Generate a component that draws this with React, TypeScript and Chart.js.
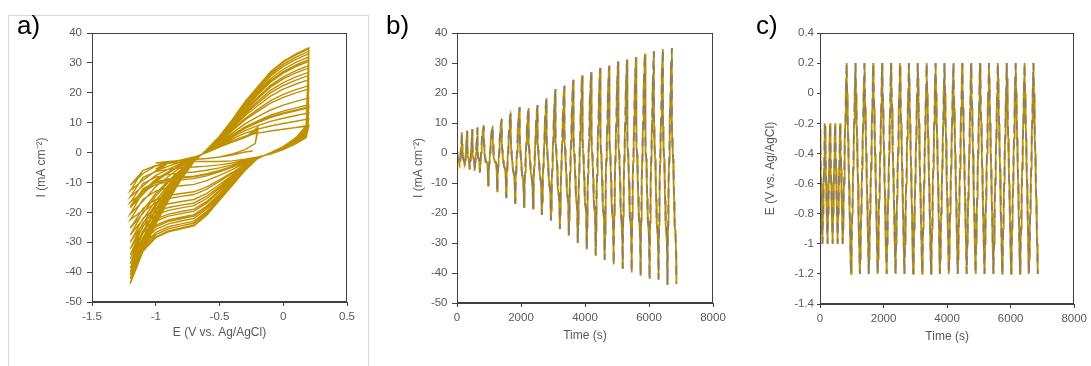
import React, { useEffect, useRef } from "react";
import { Chart, registerables } from "chart.js";

Chart.register(...registerables);

const FONT = "'Liberation Sans', Arial, sans-serif";
const TEXT = "#595959";
const GOLD = "#BF9000";
const GREY = "#8C7F5E";
const AXIS = "#404040";

const SCAN_RATE = 0.01; // V/s

// initial partial cathodic sweep (window -1.0 .. -0.2 V)
const initE = [-0.24, -0.3, -0.4, -0.5, -0.6, -0.7, -0.8, -0.9, -1.0];
const initI = [0.5, 0.2, -0.8, -1.5, -2.0, -2.3, -2.6, -3.0, -3.5];

// phase 1: narrow window cycles
const p1Min = [-3.5, -4.5, -5.5, -6.0, -6.5];
const p1Max = [6.9, 7.4, 8.0, 8.5];
const p1FwdE = [-1.0, -0.9, -0.8, -0.7, -0.6, -0.5, -0.4, -0.3, -0.2];
const p1FwdI = [0, -3.2, -2.5, -1.5, 0, 1.8, 3.5, 5.0, 0];
const p1RevE = [-0.2, -0.22, -0.3, -0.4, -0.5, -0.6, -0.7, -0.8, -0.9, -1.0];
const p1RevI = [0, 3.0, 1.0, -0.5, -1.5, -2.0, -2.3, -2.6, -3.0, 0];

// phase 2: wide window cycles (-1.2 .. 0.2 V), vertex currents per cycle
const bigMax = [9.1, 8.9, 11.3, 13.3, 15.3, 15.0, 16.0, 18.3, 21.3, 22.4, 24.4, 25.8, 26.9, 28.3, 29.1, 30.5, 31.1, 32.0, 33.1, 33.9, 34.7, 35.0];
const bigMin = [-10.9, -12.8, -14.8, -16.7, -18.0, -18.5, -20.6, -22.5, -25.3, -27.6, -30.0, -32.2, -34.2, -35.6, -37.2, -38.6, -39.8, -40.9, -42.0, -42.2, -43.9, -43.6];

// loop shapes of the first and last wide cycles
const fwdE = [-1.2, -1.1, -1.0, -0.9, -0.8, -0.7, -0.6, -0.5, -0.4, -0.3, -0.2, -0.1, 0.0, 0.1, 0.2];
const fwdFirstI = [0, -7, -4.5, -3.5, -2.5, -1.5, 0, 2, 4, 5.5, 6.5, 7.2, 7.8, 8.4, 0];
const fwdLastI = [0, -33, -24, -16, -9, -3, 1, 5.5, 11, 17, 22, 27, 30.5, 33, 0];
const revE = [0.2, 0.18, 0.1, 0.0, -0.1, -0.2, -0.3, -0.4, -0.5, -0.6, -0.7, -0.8, -0.9, -1.0, -1.1, -1.2];
const revFirstI = [0, 5, 3, 1, -0.5, -1.5, -2.2, -2.8, -3, -3, -3, -3.2, -3.6, -4.3, -6, 0];
const revLastI = [0, 9, 5, 2, 0, -2, -6, -11, -16, -21, -24.5, -25.5, -26.5, -28.5, -33, 0];

// tick values
const aXTicks = [-1.5, -1, -0.5, 0, 0.5];
const iTicks = [-50, -40, -30, -20, -10, 0, 10, 20, 30, 40];
const tTicks = [0, 2000, 4000, 6000, 8000];
const eTicks = [-1.4, -1.2, -1, -0.8, -0.6, -0.4, -0.2, 0, 0.2, 0.4];

type Pt = { E: number; I: number; t: number };

function buildSeries(): Pt[] {
  const raw: { E: number; I: number }[] = [];
  for (let i = 0; i < initE.length; i++) {
    raw.push({ E: initE[i], I: i === initE.length - 1 ? p1Min[0] : initI[i] });
  }
  for (let k = 0; k < p1Max.length; k++) {
    for (let i = 1; i < p1FwdE.length; i++) {
      raw.push({ E: p1FwdE[i], I: i === p1FwdE.length - 1 ? p1Max[k] : p1FwdI[i] });
    }
    for (let i = 1; i < p1RevE.length; i++) {
      raw.push({ E: p1RevE[i], I: i === p1RevE.length - 1 ? p1Min[k + 1] : p1RevI[i] });
    }
  }
  const lo = bigMax[0];
  const hi = bigMax[bigMax.length - 1];
  for (let k = 0; k < bigMax.length; k++) {
    const s = Math.max(0, Math.min(1, (bigMax[k] - lo) / (hi - lo)));
    const start = k === 0 ? 3 : 1;
    for (let i = start; i < fwdE.length; i++) {
      const I = i === fwdE.length - 1 ? bigMax[k] : fwdFirstI[i] + s * (fwdLastI[i] - fwdFirstI[i]);
      raw.push({ E: fwdE[i], I });
    }
    for (let i = 1; i < revE.length; i++) {
      const I = i === revE.length - 1 ? bigMin[k] : revFirstI[i] + s * (revLastI[i] - revFirstI[i]);
      raw.push({ E: revE[i], I });
    }
  }
  const out: Pt[] = [];
  let t = 0;
  for (let j = 0; j < raw.length; j++) {
    if (j > 0) t += Math.abs(raw[j].E - raw[j - 1].E) / SCAN_RATE;
    out.push({ E: raw[j].E, I: raw[j].I, t });
  }
  return out;
}

const series = buildSeries();

function scale(min: number, max: number, ticks: number[], title: string, horizontal: boolean, fixed: number, tl: number, pad: number, titlePad: number) {
  return {
    type: "linear",
    min,
    max,
    afterBuildTicks: (s: any) => {
      s.ticks = ticks.map((v) => ({ value: v }));
    },
    afterFit: (s: any) => {
      if (horizontal) s.height = fixed;
      else s.width = fixed;
    },
    ticks: {
      callback: (v: any) => String(v),
      color: TEXT,
      font: { family: FONT, size: 11.5 },
      padding: pad,
      autoSkip: false,
      maxRotation: 0,
      minRotation: 0,
    },
    grid: { display: true, drawOnChartArea: false, drawTicks: true, tickLength: tl, color: AXIS, lineWidth: 1 },
    border: { display: true, color: AXIS, width: 1 },
    title: {
      display: true,
      text: title,
      color: TEXT,
      font: { family: FONT, size: 12 },
      padding: horizontal ? { top: 0, bottom: titlePad } : { top: titlePad, bottom: 0 },
    },
  };
}

const framePlugin = {
  id: "frame",
  afterDraw(chart: any) {
    const { ctx, chartArea: a } = chart;
    ctx.save();
    ctx.strokeStyle = AXIS;
    ctx.lineWidth = 1;
    const l = Math.round(a.left) + 0.5;
    const t = Math.round(a.top) + 0.5;
    const r = Math.round(a.right) - 0.5;
    const b = Math.round(a.bottom) - 0.5;
    ctx.strokeRect(l, t, r - l, b - t);
    ctx.restore();
  },
};

function baseOptions(padding: any, scales: any) {
  return {
    responsive: false,
    maintainAspectRatio: false,
    animation: false,
    layout: { padding },
    plugins: { legend: { display: false }, tooltip: { enabled: false } },
    events: [],
    scales,
  };
}

export default function App() {
  const refA = useRef<HTMLCanvasElement>(null);
  const refB = useRef<HTMLCanvasElement>(null);
  const refC = useRef<HTMLCanvasElement>(null);

  useEffect(() => {
    const charts: Chart[] = [];
    const aData = series.map((p) => ({ x: p.E, y: p.I }));
    const bData = series.map((p) => ({ x: p.t, y: p.I }));
    const cData = series.map((p) => ({ x: p.t, y: p.E }));

    charts.push(
      new Chart(refA.current!, {
        type: "scatter",
        data: {
          datasets: [{ data: aData, showLine: true, borderColor: GOLD, borderWidth: 1.4, pointRadius: 0, tension: 0 }],
        },
        options: baseOptions(
          { left: 0, top: 33, right: 23, bottom: 19 },
          {
            x: scale(-1.5, 0.5, aXTicks, "E (V vs. Ag/AgCl)", true, 45, 4, 4, 6.8),
            y: scale(-50, 40, iTicks, "I (mA cm\u207B\u00B2)", false, 92, 5, 5, 34.5),
          }
        ) as any,
        plugins: [framePlugin],
      } as any)
    );

    // dataset 0 is painted last (on top): grey dashes over a solid gold line
    const twoTone = (d: any[]) => [
      { data: d, showLine: true, borderColor: GREY, borderWidth: 1.8, borderDash: [9, 7], pointRadius: 0, tension: 0 },
      { data: d, showLine: true, borderColor: GOLD, borderWidth: 1.8, pointRadius: 0, tension: 0 },
    ];

    charts.push(
      new Chart(refB.current!, {
        type: "scatter",
        data: { datasets: twoTone(bData) },
        options: baseOptions(
          { left: 0, top: 33, right: 27, bottom: 18 },
          {
            x: scale(0, 8000, tTicks, "Time (s)", true, 45, 4, 4, 4.8),
            y: scale(-50, 40, iTicks, "I (mA cm\u207B\u00B2)", false, 87, 5, 4.5, 41.1),
          }
        ) as any,
        plugins: [framePlugin],
      } as any)
    );

    charts.push(
      new Chart(refC.current!, {
        type: "scatter",
        data: { datasets: twoTone(cData) },
        options: baseOptions(
          { left: 0, top: 33, right: 16, bottom: 17 },
          {
            x: scale(0, 8000, tTicks, "Time (s)", true, 45, 4, 4, 5.1),
            y: scale(-1.4, 0.4, eTicks, "E (V vs. Ag/AgCl)", false, 80, 3, 3, 23.5),
          }
        ) as any,
        plugins: [framePlugin],
      } as any)
    );

    return () => charts.forEach((c) => c.destroy());
  }, []);

  const label = (text: string, left: number) => (
    <div
      style={{
        position: "absolute",
        left,
        top: 12,
        fontFamily: FONT,
        fontSize: 26,
        lineHeight: "26px",
        color: "#000",
      }}
    >
      {text}
    </div>
  );

  return (
    <div style={{ position: "fixed", left: 0, top: 0, width: 1091, height: 366, overflow: "hidden", background: "#fff" }}>
      <div style={{ position: "absolute", left: 8, top: 15, width: 359, height: 400, border: "1px solid #D9D9D9" }} />
      <canvas ref={refA} width={370} height={366} style={{ position: "absolute", left: 0, top: 0, width: 370, height: 366 }} />
      <canvas ref={refB} width={370} height={366} style={{ position: "absolute", left: 370, top: 0, width: 370, height: 366 }} />
      <canvas ref={refC} width={351} height={366} style={{ position: "absolute", left: 740, top: 0, width: 351, height: 366 }} />
      {label("a)", 17)}
      {label("b)", 386)}
      {label("c)", 756)}
    </div>
  );
}
